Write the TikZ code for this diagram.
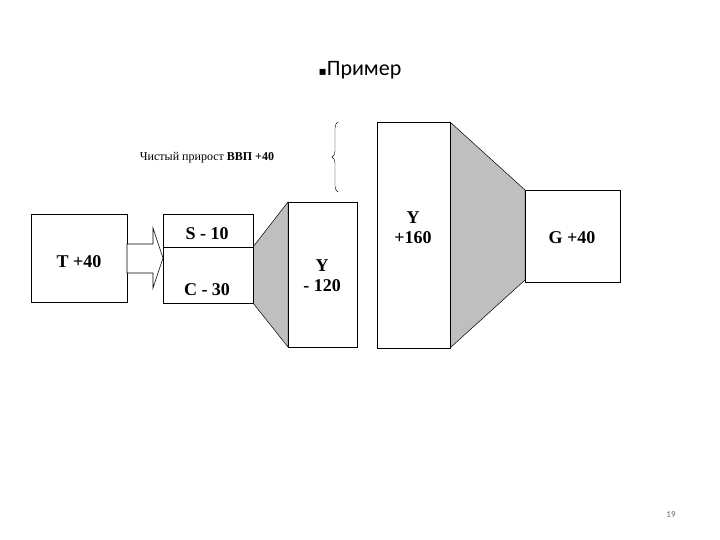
\documentclass[tikz,border=0pt]{standalone}
\usepackage{fontspec}
\setmainfont{Liberation Serif}
\newfontfamily\titlefont{Carlito}
\newfontfamily\symfont{DejaVu Sans}
\usetikzlibrary{decorations.pathreplacing,shapes.arrows}
\begin{document}
\begin{tikzpicture}[x=1pt,y=-1pt,
  box/.style={draw,fill=white,line width=0.6pt},
  lab/.style={font=\bfseries\fontsize{18}{20}\selectfont},
  gray/.style={draw,fill=black!25,line width=0.5pt}]
\useasboundingbox (0,0) rectangle (720,540);
\node[font=\titlefont\fontsize{22}{24}\selectfont] (title) at (360,70) {{\symfont\fontsize{12}{12}\selectfont ▪}Пример};
\node[font=\fontsize{12}{14}\selectfont] (net) at (207,158) {Чистый прирост \textbf{ВВП +40}};
\draw[decorate,decoration={brace,amplitude=6pt}] (338,192) -- (338,122) coordinate (bt);
% trapezoids
\draw[gray] (253,247) -- (288,202) -- (288,347) -- (253,303) -- cycle;
\draw[gray] (450,122) -- (525,190) -- (525,280) -- (450,348) -- cycle;
% boxes
\draw[box] (31,214) rectangle (127,302);
\node[lab] (T) at (79,262) {T +40};
\draw[box] (163,214) rectangle (253,303);
\draw (163,247) -- (253,247);
\node[lab] (S) at (207,234) {S - 10};
\node[lab] (C) at (207,290) {C - 30};
\draw[box] (288,202) rectangle (357,347);
\node[lab,align=center] (Y1) at (322,276) {Y\\- 120};
\draw[box] (377,122) rectangle (450,348);
\node[lab,align=center] (Y2) at (413,228) {Y\\+160};
\draw[box] (525,190) rectangle (620,282);
\node[lab] (G) at (572,238) {G +40};
% arrow
\draw[fill=white,line width=0.6pt] (127,244) -- (153,244) -- (153,228) -- (163,258) -- (153,288) -- (153,273) -- (127,273) -- cycle;
\node[font=\titlefont\fontsize{9}{10}\selectfont,text=black!60] (pg) at (671,515) {19};
\end{tikzpicture}
\end{document}
